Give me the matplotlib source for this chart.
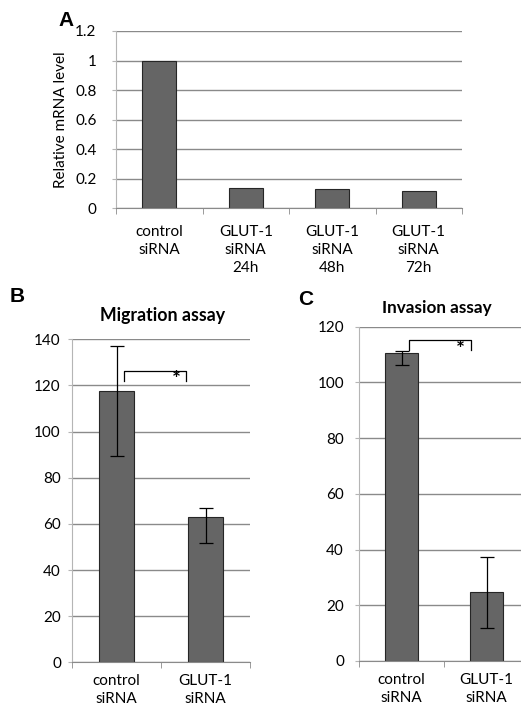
import matplotlib
matplotlib.use("Agg")
import matplotlib.pyplot as plt
import numpy as np

# ---- data ----
a_categories = ["control\nsiRNA", "GLUT-1\nsiRNA\n24h", "GLUT-1\nsiRNA\n48h", "GLUT-1\nsiRNA\n72h"]
a_values = [1.0, 0.14, 0.13, 0.12]
a_yticks = [0, 0.2, 0.4, 0.6, 0.8, 1, 1.2]
a_yticklabels = ["0", "0.2", "0.4", "0.6", "0.8", "1", "1.2"]

b_categories = ["control\nsiRNA", "GLUT-1\nsiRNA"]
b_values = [117.5, 63.0]
b_err_low = [28.0, 11.2]
b_err_high = [19.6, 3.9]
b_yticks = [0, 20, 40, 60, 80, 100, 120, 140]

c_categories = ["control\nsiRNA", "GLUT-1\nsiRNA"]
c_values = [110.4, 24.6]
c_err_low = [4.2, 12.9]
c_err_high = [1.0, 12.8]
c_yticks = [0, 20, 40, 60, 80, 100, 120]

plt.rcParams['font.family'] = ['Lato', 'DejaVu Sans']

W, H = 521, 706
fig = plt.figure(figsize=(W / 100, H / 100), dpi=100)

BAR_COLOR = "#656565"
EDGE = "#262626"
GRID = "#8a8a8a"
FS = 11
LS = 1.38

def px(x0, y0, x1, y1):
    return [x0 / W, 1 - y1 / H, (x1 - x0) / W, (y1 - y0) / H]

def style(ax, ncat, ylim, yticks, ylabels=None, ypad=6, xpad=8):
    ax.set_xlim(-0.5, ncat - 0.5)
    ax.set_ylim(*ylim)
    ax.set_yticks(yticks)
    if ylabels is not None:
        ax.set_yticklabels(ylabels)
    ax.yaxis.grid(True, color=GRID, linewidth=1.0)
    ax.set_axisbelow(True)
    for s in ["top", "right"]:
        ax.spines[s].set_visible(False)
    ax.spines["left"].set_color("#b5b5b5")
    ax.spines["bottom"].set_color("#8a8a8a")
    ax.tick_params(axis="y", length=3, color="#b5b5b5", pad=ypad, labelsize=FS)
    ax.tick_params(axis="x", which="major", length=0, pad=xpad, labelsize=FS)
    ax.set_xticks(np.arange(-0.5, ncat, 1.0), minor=True)
    ax.tick_params(axis="x", which="minor", length=4, color="#8a8a8a")

# ---- Panel A ----
axA = fig.add_axes(px(116, 31, 462, 208.3))
xa = np.arange(len(a_values))
axA.bar(xa, a_values, width=0.39, color=BAR_COLOR, edgecolor=EDGE, linewidth=0.8, zorder=2)
style(axA, len(a_values), (0, 1.2), a_yticks, a_yticklabels, ypad=11, xpad=12)
axA.set_xticks(xa)
axA.set_xticklabels(a_categories, linespacing=LS)
axA.set_ylabel("Relative mRNA level", fontsize=11, labelpad=5)
fig.text(66 / W, 1 - 20 / H, "A", fontsize=15, fontweight="bold",
         family="Liberation Sans", ha="center", va="center")

# ---- Panel B ----
axB = fig.add_axes(px(72, 339.3, 250, 662.3))
xb = np.arange(len(b_values))
axB.bar(xb, b_values, width=0.39, color=BAR_COLOR, edgecolor=EDGE, linewidth=0.8, zorder=2)
axB.errorbar(xb, b_values, yerr=[b_err_low, b_err_high], fmt="none", ecolor="black",
             elinewidth=0.9, capsize=4.8, capthick=0.9, zorder=3)
style(axB, len(b_values), (0, 140), b_yticks, ypad=5, xpad=8.5)
axB.set_xticks(xb)
axB.set_xticklabels(b_categories, linespacing=LS)
axB.plot([0.088, 0.088, 0.781, 0.781], [122.0, 126.4, 126.4, 122.0], color="black", lw=0.9, zorder=4)
axB.text(0.67, 122.4, "*", ha="center", va="center", fontsize=15, fontweight="bold")
fig.text(17.5 / W, 1 - 297 / H, "B", fontsize=15, fontweight="bold",
         family="Liberation Sans", ha="center", va="center")
fig.text(163 / W, 1 - 315 / H, "Migration assay", fontsize=12.8, fontweight="bold",
         ha="center", va="center")

# ---- Panel C ----
axC = fig.add_axes(px(359.2, 326.7, 529.2, 661))
xc = np.arange(len(c_values))
axC.bar(xc, c_values, width=0.39, color=BAR_COLOR, edgecolor=EDGE, linewidth=0.8, zorder=2)
axC.errorbar(xc, c_values, yerr=[c_err_low, c_err_high], fmt="none", ecolor="black",
             elinewidth=0.9, capsize=4.8, capthick=0.9, zorder=3)
style(axC, len(c_values), (0, 120), c_yticks, ypad=8, xpad=8.5)
axC.set_xticks(xc)
axC.set_xticklabels(c_categories, linespacing=LS)
axC.plot([0.089, 0.089, 0.815, 0.815], [111.6, 115.2, 115.2, 111.6], color="black", lw=0.9, zorder=4)
axC.text(0.694, 111.6, "*", ha="center", va="center", fontsize=15, fontweight="bold")
fig.text(306 / W, 1 - 300 / H, "C", fontsize=15, fontweight="bold",
         family="Liberation Sans", ha="center", va="center")
fig.text(437 / W, 1 - 307.5 / H, "Invasion assay", fontsize=12.3, fontweight="bold",
         ha="center", va="center")

fig.savefig("out.png", dpi=100, facecolor="white")
